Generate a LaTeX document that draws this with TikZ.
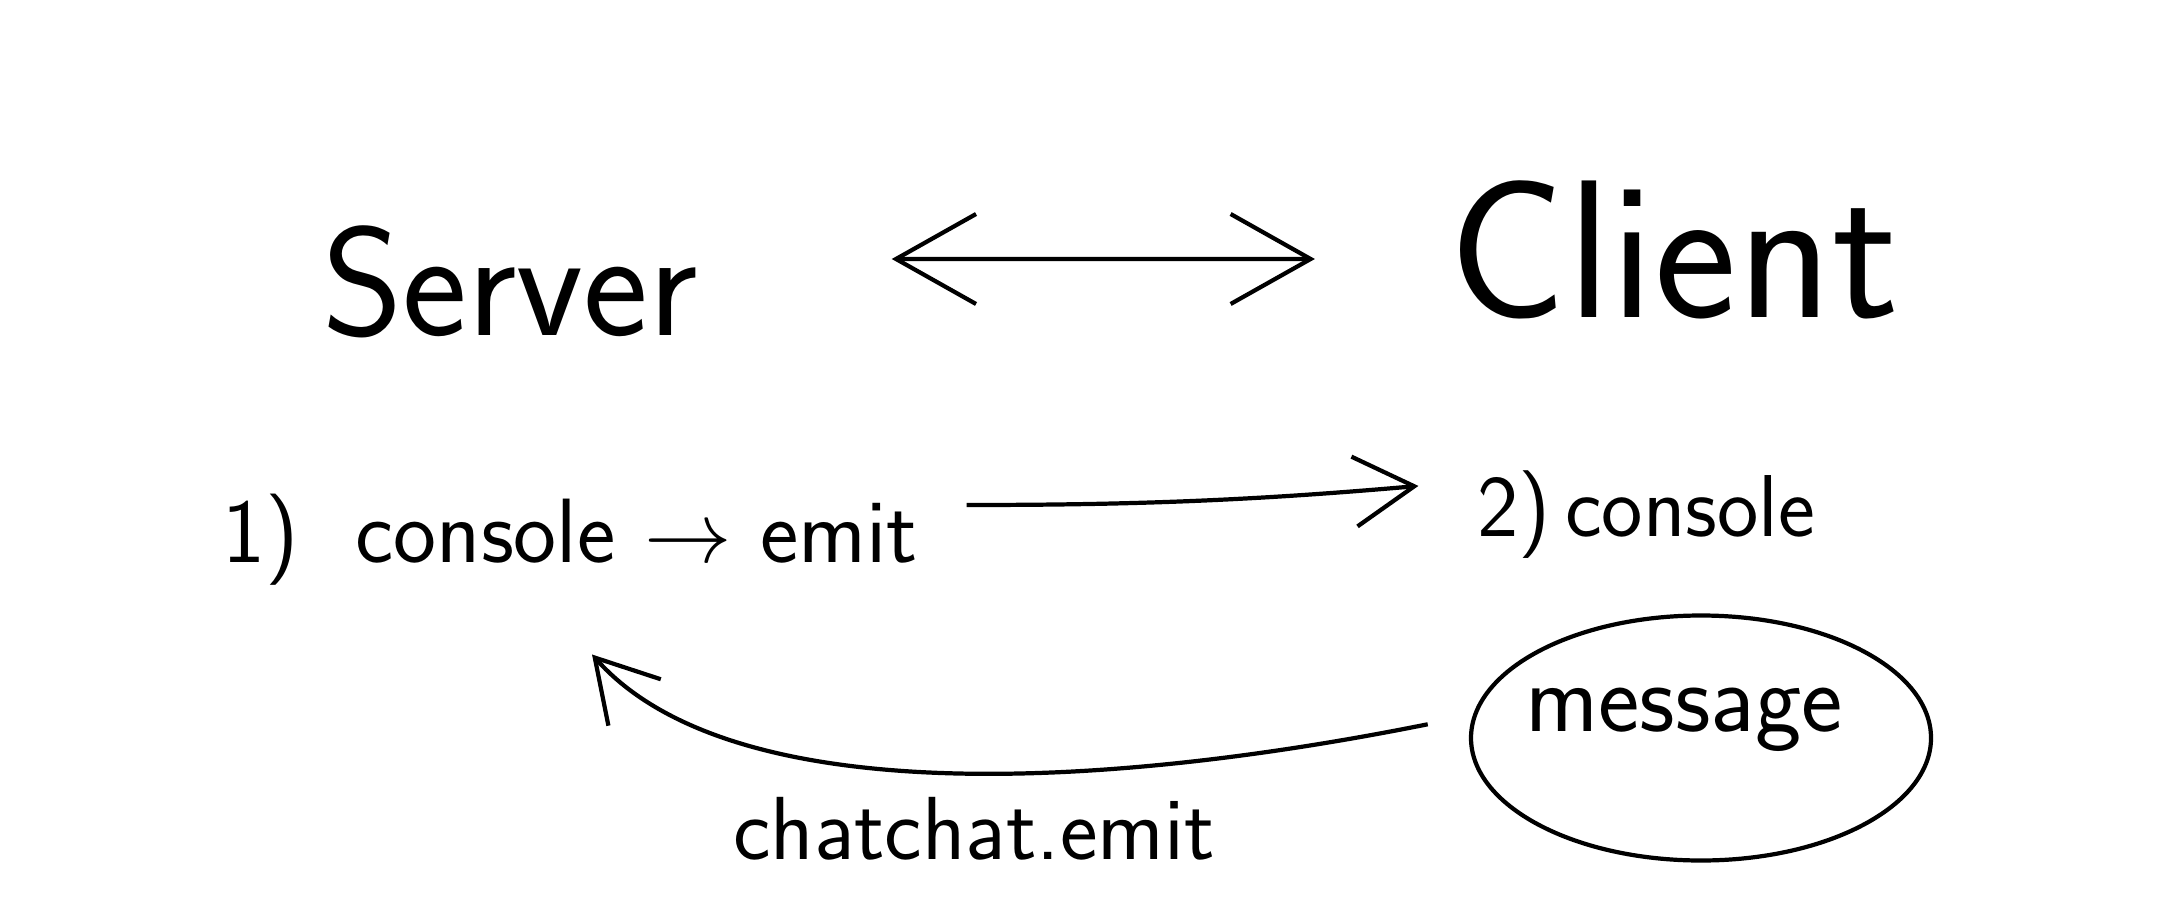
\documentclass[tikz,border=0pt]{standalone}
\usepackage{fontspec}
\usetikzlibrary{arrows.meta}
\usetikzlibrary{shapes.geometric}

\begin{document}
\begin{tikzpicture}[line width=1.2pt,font=\sffamily,
    bigtip/.tip={Straight Barb[length=8mm,width=9mm,line width=1.2pt]},
    smalltip/.tip={Straight Barb[length=6mm,width=7mm,line width=1.2pt]}]

    % white page, same size as the sketch
    \useasboundingbox[fill=white] (0,0) rectangle (21.6,9);

    % the two sides
    \node (server) at (5.10,6.18) {\fontsize{44}{50}\selectfont Server};
    \node (client) at (16.74,6.50) {\fontsize{56}{62}\selectfont Client};

    % steps
    \node (step1) at (5.70,3.60) {\fontsize{26}{30}\selectfont 1)~~console $\to$ emit};
    \node (step2) at (16.46,3.85) {\fontsize{25}{30}\selectfont 2)\,console};

    % message bubble
    \node[ellipse,draw,minimum width=4.6cm,minimum height=2.45cm,inner sep=0pt] (msg) at (17.01,1.62) {};
    \node (msgtext) at (16.84,1.80) {\fontsize{28}{32}\selectfont message};

    % server <-> client
    \draw [bigtip-bigtip] ([xshift=1.8cm,yshift=0.23cm]server.east) -- ([xshift=-1.2cm,yshift=-0.09cm]client.west);

    % emit from server to client
    \draw [-smalltip, shorten <=0.35cm, shorten >=0.45cm] ([yshift=0.35cm]step1.east) to[out=0,in=185] ([yshift=0.33cm]step2.west);

    % answer back
    \coordinate (back) at ([xshift=0.22cm,yshift=-0.55cm]step1.south);
    \draw [-smalltip, shorten <=0.42cm] ([yshift=0.22cm]msg.west) .. controls (11,1.1) and (7.3,0.9) .. (back);
    \node (emitlabel) at (9.74,0.71) {\fontsize{25.5}{30}\selectfont chatchat.emit};

\end{tikzpicture}
\end{document}
